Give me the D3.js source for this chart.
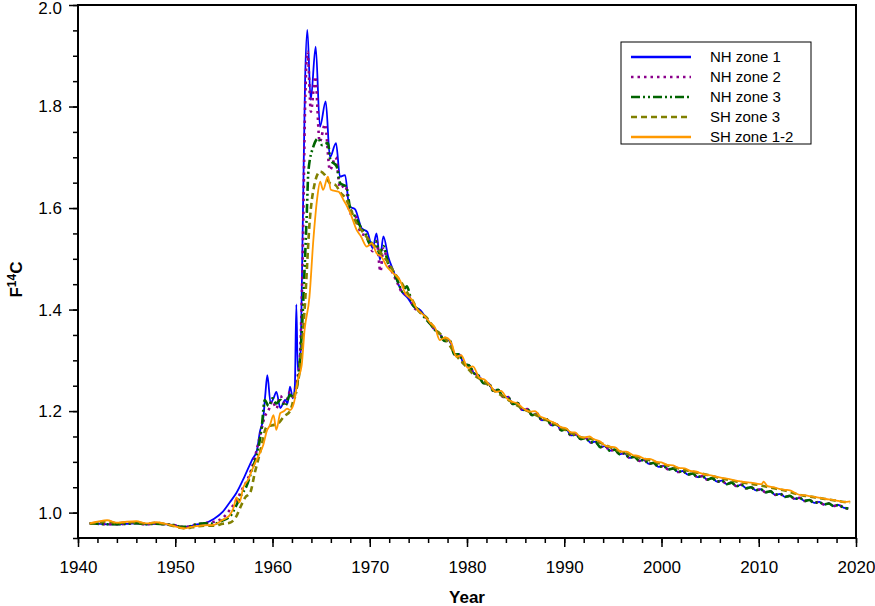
<!DOCTYPE html>
<html>
<head>
<meta charset="utf-8">
<script src="https://cdn.jsdelivr.net/npm/d3@7"></script>
<style>
  body { margin: 0; background: #fff; }
  svg { font-family: Arial, "Liberation Sans", sans-serif; }
</style>
</head>
<body>
<div id="chart"></div>
<script>
// DATA
var seriesNames = ["NH zone 1", "NH zone 2", "NH zone 3", "SH zone 3", "SH zone 1-2"];

// pre-bomb part, shared shape for the northern zones
var nhEarlyYears = [1941.2, 1942, 1943, 1944, 1945, 1946, 1947, 1948, 1949, 1950, 1950.5, 1951, 1951.5, 1952, 1953];
var nhEarlyValues = [0.979, 0.978, 0.977, 0.977, 0.978, 0.979, 0.977, 0.978, 0.977, 0.975, 0.972, 0.972, 0.973, 0.976, 0.979];

// post-1976 decline, northern zones
var nhLateYears = [1976.2, 1976.7, 1977.2, 1977.7, 1978.2, 1978.7, 1979.2, 1979.7, 1980.2, 1980.7, 1981.2, 1981.7, 1982.2, 1982.7, 1983.2, 1983.7, 1984.2, 1984.7, 1985.2, 1985.7, 1986.2, 1986.7, 1987.2, 1987.7, 1988.2, 1988.7, 1989.2, 1989.7, 1990.2, 1990.7, 1991.2, 1991.7, 1992.2, 1992.7, 1993.2, 1993.7, 1994.2, 1994.7, 1995.2, 1995.7, 1996.2, 1996.7, 1997.2, 1997.7, 1998.2, 1998.7, 1999.2, 1999.7, 2000.2, 2000.7, 2001.2, 2001.7, 2002.2, 2002.7, 2003.2, 2003.7, 2004.2, 2004.7, 2005.2, 2005.7, 2006.2, 2006.7, 2007.2, 2007.7, 2008.2, 2008.7, 2009.2, 2009.7, 2010.2, 2010.7, 2011.2, 2011.7, 2012.2, 2012.7, 2013.2, 2013.7, 2014.2, 2014.7, 2015.2, 2015.7, 2016.2, 2016.7, 2017.2, 2017.7, 2018.2, 2018.7, 2019.2];
var nhLateValues = [1.372, 1.36, 1.352, 1.338, 1.34, 1.312, 1.312, 1.292, 1.29, 1.275, 1.27, 1.255, 1.255, 1.24, 1.242, 1.228, 1.228, 1.214, 1.216, 1.202, 1.204, 1.192, 1.195, 1.182, 1.184, 1.172, 1.174, 1.162, 1.164, 1.152, 1.154, 1.145, 1.147, 1.138, 1.14, 1.129, 1.131, 1.122, 1.124, 1.115, 1.117, 1.108, 1.11, 1.102, 1.104, 1.096, 1.098, 1.09, 1.092, 1.085, 1.087, 1.08, 1.082, 1.075, 1.077, 1.07, 1.072, 1.065, 1.068, 1.061, 1.063, 1.056, 1.059, 1.052, 1.055, 1.048, 1.05, 1.044, 1.046, 1.04, 1.042, 1.035, 1.037, 1.031, 1.033, 1.027, 1.029, 1.023, 1.025, 1.019, 1.021, 1.016, 1.018, 1.013, 1.015, 1.01, 1.008];

// NH zone 1, 1954-1975.7
var nh1Years = [1954, 1954.9, 1955.6, 1956.3, 1957.1, 1957.9, 1958.4, 1958.7, 1959.05, 1959.25, 1959.47, 1959.8, 1960.1, 1960.4, 1960.8, 1961.3, 1961.55, 1961.8, 1962.1, 1962.3, 1962.45, 1962.6, 1962.85, 1963.1, 1963.35, 1963.58, 1963.93, 1964.44, 1964.88, 1965.47, 1965.91, 1966.53, 1966.94, 1967.46, 1967.9, 1968.48, 1969.17, 1969.75, 1970.3, 1970.7, 1971.05, 1971.4, 1971.9, 1972.4, 1972.9, 1973.3, 1973.9, 1974.5, 1975.2, 1975.7];
var nh1Values = [0.988, 1.002, 1.02, 1.039, 1.07, 1.104, 1.123, 1.159, 1.186, 1.23, 1.271, 1.216, 1.225, 1.238, 1.206, 1.222, 1.215, 1.248, 1.225, 1.25, 1.41, 1.28, 1.3, 1.55, 1.85, 1.951, 1.813, 1.918, 1.76, 1.81, 1.7, 1.728, 1.662, 1.665, 1.603, 1.598, 1.56, 1.553, 1.521, 1.55, 1.498, 1.544, 1.504, 1.478, 1.452, 1.435, 1.423, 1.406, 1.399, 1.386];

// NH zone 2, 1954-1975.7
var nh2Years = [1954, 1954.9, 1955.6, 1956.3, 1957, 1957.5, 1958.2, 1958.7, 1959.2, 1959.6, 1960, 1960.4, 1960.8, 1961.3, 1961.8, 1962.2, 1962.5, 1962.8, 1963.1, 1963.35, 1963.6, 1963.95, 1964.4, 1964.85, 1965.4, 1965.9, 1966.5, 1966.95, 1967.5, 1967.95, 1968.5, 1969.1, 1969.7, 1970.3, 1970.7, 1971.1, 1971.4, 1971.9, 1972.4, 1972.9, 1973.4, 1973.9, 1974.5, 1975.2, 1975.7];
var nh2Values = [0.982, 0.99, 1.005, 1.025, 1.05, 1.068, 1.11, 1.15, 1.189, 1.202, 1.22, 1.205, 1.23, 1.215, 1.238, 1.225, 1.26, 1.3, 1.5, 1.8, 1.908, 1.79, 1.859, 1.73, 1.765, 1.675, 1.7, 1.64, 1.645, 1.59, 1.585, 1.55, 1.545, 1.515, 1.535, 1.475, 1.52, 1.49, 1.47, 1.45, 1.432, 1.43, 1.405, 1.395, 1.385];

// NH zone 3, 1954-1975.6
var nh3Years = [1954, 1954.9, 1955.6, 1956.3, 1956.8, 1957.3, 1957.9, 1958.5, 1958.9, 1959.2, 1959.6, 1960, 1960.4, 1960.8, 1961.3, 1961.8, 1962.2, 1962.6, 1963, 1963.3, 1963.5, 1963.7, 1964.2, 1964.7, 1965.1, 1965.7, 1965.95, 1966.6, 1966.95, 1967.6, 1967.95, 1968.5, 1969, 1969.6, 1970, 1970.6, 1971, 1971.4, 1971.9, 1972.4, 1972.9, 1973.4, 1973.8, 1974.4, 1975, 1975.6];
var nh3Values = [0.978, 0.985, 0.992, 1.015, 1.035, 1.051, 1.085, 1.123, 1.17, 1.222, 1.21, 1.225, 1.215, 1.222, 1.21, 1.232, 1.225, 1.26, 1.35, 1.48, 1.576, 1.675, 1.721, 1.737, 1.724, 1.728, 1.695, 1.682, 1.649, 1.642, 1.603, 1.583, 1.565, 1.548, 1.53, 1.535, 1.51, 1.525, 1.49, 1.475, 1.455, 1.435, 1.446, 1.41, 1.4, 1.385];

// SH zone 3, whole record
var sh3Years = [1941.2, 1942, 1943, 1944, 1945, 1946, 1947, 1948, 1949, 1950, 1950.5, 1951, 1951.5, 1952, 1953, 1954, 1954.9, 1955.6, 1956.2, 1956.8, 1957.2, 1957.7, 1958.2, 1958.7, 1959.4, 1960, 1960.6, 1961.2, 1961.8, 1962.3, 1962.8, 1963.3, 1963.85, 1964.3, 1964.9, 1965.4, 1965.9, 1966.5, 1967, 1967.5, 1968, 1968.5, 1969, 1969.6, 1970.2, 1970.8, 1971.4, 1972, 1972.6, 1973.2, 1973.8, 1974.4, 1974.9, 1975.8, 1976.8, 1977.8, 1978.8, 1979.8, 1980.8, 1981.8, 1982.8, 1983.8, 1984.8, 1985.8, 1986.8, 1987.8, 1988.8, 1989.8, 1990.8, 1991.8, 1992.8, 1993.8, 1994.8, 1995.8, 1996.8, 1997.8, 1998.8, 1999.8, 2000.8, 2001.8, 2002.8, 2003.8, 2004.8, 2005.8, 2006.8, 2007.8, 2008.8, 2009.8, 2010.8, 2011.8, 2012.8, 2013.8, 2014.8, 2015.8, 2016.8, 2017.8, 2018.8, 2019.4];
var sh3Values = [0.978, 0.98, 0.983, 0.979, 0.981, 0.981, 0.978, 0.98, 0.977, 0.973, 0.97, 0.969, 0.97, 0.972, 0.974, 0.974, 0.978, 0.98, 0.99, 1.015, 1.03, 1.039, 1.08, 1.117, 1.169, 1.172, 1.176, 1.19, 1.2, 1.235, 1.28, 1.4, 1.58, 1.645, 1.672, 1.665, 1.649, 1.645, 1.63, 1.62, 1.6, 1.575, 1.56, 1.545, 1.53, 1.52, 1.505, 1.49, 1.47, 1.455, 1.435, 1.418, 1.4, 1.385, 1.36, 1.342, 1.312, 1.29, 1.27, 1.258, 1.24, 1.228, 1.215, 1.204, 1.195, 1.185, 1.177, 1.166, 1.156, 1.148, 1.145, 1.137, 1.128, 1.12, 1.114, 1.108, 1.103, 1.097, 1.092, 1.087, 1.082, 1.078, 1.074, 1.069, 1.065, 1.061, 1.058, 1.055, 1.051, 1.047, 1.043, 1.037, 1.033, 1.03, 1.027, 1.024, 1.021, 1.02];

// SH zone 1-2, whole record
var sh12Years = [1941.2, 1942, 1943, 1944, 1945, 1946, 1947, 1948, 1949, 1950, 1950.5, 1951, 1951.5, 1952, 1953, 1954, 1954.8, 1955.3, 1955.6, 1956, 1956.3, 1956.6, 1957, 1957.5, 1957.9, 1958.5, 1959.05, 1959.4, 1959.75, 1960.1, 1960.4, 1960.8, 1961.2, 1961.5, 1961.8, 1962.2, 1962.6, 1963, 1963.3, 1963.8, 1964.2, 1964.6, 1964.9, 1965.2, 1965.7, 1966, 1966.8, 1967.3, 1967.6, 1968, 1968.65, 1969.1, 1969.7, 1970.2, 1970.7, 1971.2, 1971.75, 1972.4, 1973.1, 1973.7, 1974.3, 1974.9, 1975.5, 1976.2, 1976.7, 1977.2, 1977.8, 1978.4, 1978.9, 1979.4, 1980.1, 1980.6, 1981.3, 1981.8, 1982.4, 1983, 1983.5, 1984.1, 1984.7, 1985.2, 1985.8, 1986.5, 1987, 1987.5, 1988, 1988.6, 1989.1, 1989.6, 1990.2, 1990.7, 1991.1, 1991.6, 1992.1, 1992.6, 1993, 1993.7, 1994.2, 1994.7, 1995.3, 1995.8, 1996.4, 1997.1, 1997.6, 1998.3, 1998.8, 1999.5, 2000, 2000.6, 2001.2, 2001.8, 2002.4, 2003, 2003.5, 2004, 2004.6, 2005.2, 2005.8, 2006.4, 2007, 2007.4, 2008, 2008.6, 2009.2, 2009.8, 2010.3, 2010.5, 2010.9, 2011.5, 2012.1, 2012.7, 2013.2, 2013.8, 2014.2, 2014.8, 2015.4, 2016, 2016.6, 2017.2, 2017.6, 2018.2, 2018.8, 2019.4];
var sh12Values = [0.979, 0.982, 0.985, 0.98, 0.982, 0.983, 0.979, 0.981, 0.978, 0.973, 0.97, 0.969, 0.971, 0.973, 0.975, 0.976, 0.985, 0.99, 0.995, 1.01, 1.03, 1.02, 1.05, 1.065, 1.084, 1.11, 1.133, 1.16, 1.173, 1.192, 1.163, 1.196, 1.2, 1.205, 1.202, 1.216, 1.261, 1.29, 1.36, 1.425, 1.537, 1.62, 1.652, 1.636, 1.662, 1.636, 1.632, 1.616, 1.606, 1.59, 1.557, 1.544, 1.524, 1.531, 1.511, 1.504, 1.485, 1.472, 1.458, 1.43, 1.42, 1.4, 1.39, 1.374, 1.365, 1.34, 1.345, 1.334, 1.307, 1.31, 1.285, 1.288, 1.265, 1.262, 1.25, 1.238, 1.24, 1.225, 1.218, 1.215, 1.205, 1.199, 1.2, 1.19, 1.186, 1.18, 1.176, 1.169, 1.166, 1.158, 1.158, 1.15, 1.148, 1.15, 1.145, 1.14, 1.132, 1.13, 1.128, 1.12, 1.12, 1.113, 1.112, 1.106, 1.106, 1.1, 1.099, 1.094, 1.093, 1.088, 1.087, 1.082, 1.081, 1.078, 1.075, 1.073, 1.07, 1.068, 1.066, 1.064, 1.062, 1.06, 1.059, 1.057, 1.056, 1.061, 1.052, 1.05, 1.047, 1.045, 1.044, 1.038, 1.035, 1.034, 1.032, 1.03, 1.028, 1.026, 1.025, 1.023, 1.021, 1.022];

var xTicks = [1940, 1950, 1960, 1970, 1980, 1990, 2000, 2010, 2020];
var yTicks = [1.0, 1.2, 1.4, 1.6, 1.8, 2.0];

// SETUP
var svgWidth = 875;
var svgHeight = 606;
var margin = { top: 5, right: 19, bottom: 68, left: 78 };
var width = svgWidth - margin.left - margin.right;
var height = svgHeight - margin.top - margin.bottom;

var svg = d3.select("#chart").append("svg")
    .attr("width", svgWidth)
    .attr("height", svgHeight);
var chartGroup = svg.append("g")
    .attr("transform", `translate(${margin.left}, ${margin.top})`);

var xScale = d3.scaleLinear().domain([1940, 2020]).range([0, width]);
var yScale = d3.scaleLinear().domain([0.95, 2.0]).range([height, 0]);

function zip(years, values) {
    return years.map((y, i) => ({ year: y, value: values[i] }));
}

var series = [
    { name: seriesNames[0], color: "#0000ff", width: 1.8, dash: null,
      data: zip(nhEarlyYears.concat(nh1Years, nhLateYears), nhEarlyValues.concat(nh1Values, nhLateValues)) },
    { name: seriesNames[1], color: "#8b008b", width: 2.6, dash: "2.5,4",
      data: zip(nhEarlyYears.concat(nh2Years, nhLateYears), nhEarlyValues.concat(nh2Values, nhLateValues)) },
    { name: seriesNames[2], color: "#006400", width: 2.6, dash: "9,3,2,3,2,3",
      data: zip(nhEarlyYears.concat(nh3Years, nhLateYears), nhEarlyValues.concat(nh3Values, nhLateValues)) },
    { name: seriesNames[3], color: "#808000", width: 2.6, dash: "6,4",
      data: zip(sh3Years, sh3Values) },
    { name: seriesNames[4], color: "#ff9900", width: 1.8, dash: null,
      data: zip(sh12Years, sh12Values) }
];

// AXES
var bottomAxis = d3.axisBottom(xScale).tickValues(xTicks).tickFormat(d3.format("d")).tickSize(9).tickPadding(14);
var bottomMinor = d3.axisBottom(xScale).tickValues(d3.range(1940, 2021, 2)).tickFormat("").tickSize(5);
var leftAxis = d3.axisLeft(yScale).tickValues(yTicks).tickFormat(d3.format(".1f")).tickSize(9).tickPadding(7);
var leftMinor = d3.axisLeft(yScale).tickValues(d3.range(0.95, 2.0001, 0.05)).tickFormat("").tickSize(5);

var xMinorG = chartGroup.append("g").attr("transform", `translate(0, ${height})`).call(bottomMinor);
var yMinorG = chartGroup.append("g").call(leftMinor);
var xAxisG = chartGroup.append("g").attr("transform", `translate(0, ${height})`).call(bottomAxis);
var yAxisG = chartGroup.append("g").call(leftAxis);

[xMinorG, yMinorG, xAxisG, yAxisG].forEach(g => {
    g.select(".domain").remove();
    g.selectAll("line").attr("stroke", "#000").attr("stroke-width", 1.5);
    g.selectAll("text").attr("font-size", 17).attr("fill", "#000")
        .attr("font-family", "Arial, 'Liberation Sans', sans-serif");
});
// top label sits a bit low so it is not cut by the page edge
yAxisG.selectAll(".tick text").filter(d => d === 2.0).attr("dy", "0.5em");

// LINES
var line = d3.line()
    .x(d => xScale(d.year))
    .y(d => yScale(d.value))
    .curve(d3.curveMonotoneX);

chartGroup.append("defs").append("clipPath").attr("id", "clip")
    .append("rect").attr("width", width).attr("height", height);

var linesGroup = chartGroup.append("g").attr("clip-path", "url(#clip)");
series.forEach(s => {
    linesGroup.append("path")
        .datum(s.data)
        .attr("fill", "none")
        .attr("stroke", s.color)
        .attr("stroke-width", s.width)
        .attr("stroke-dasharray", s.dash)
        .attr("d", line);
});

// frame
chartGroup.append("rect")
    .attr("width", width)
    .attr("height", height)
    .attr("fill", "none")
    .attr("stroke", "#000")
    .attr("stroke-width", 2);

// LEGEND
var legend = svg.append("g").attr("transform", "translate(621, 42)");
legend.append("rect")
    .attr("width", 190)
    .attr("height", 102)
    .attr("fill", "#fff")
    .attr("stroke", "#000")
    .attr("stroke-width", 1);
series.forEach((s, i) => {
    var yy = 15 + i * 20;
    legend.append("line")
        .attr("x1", 10).attr("x2", 70)
        .attr("y1", yy).attr("y2", yy)
        .attr("stroke", s.color)
        .attr("stroke-width", 2.6)
        .attr("stroke-dasharray", s.dash);
    legend.append("text")
        .attr("x", 89)
        .attr("y", yy + 5)
        .attr("font-size", 15)
        .text(s.name);
});

// AXIS LABELS
svg.append("text")
    .attr("x", margin.left + width / 2)
    .attr("y", 603)
    .attr("text-anchor", "middle")
    .attr("font-size", 17)
    .attr("font-weight", "bold")
    .text("Year");

var yLabel = svg.append("text")
    .attr("transform", `translate(22, ${margin.top + height / 2 + 8}) rotate(-90)`)
    .attr("text-anchor", "middle")
    .attr("font-size", 17)
    .attr("font-weight", "bold");
yLabel.append("tspan").text("F");
yLabel.append("tspan").attr("dy", -6).attr("font-size", 12).text("14");
yLabel.append("tspan").attr("dy", 6).text("C");
</script>
</body>
</html>
